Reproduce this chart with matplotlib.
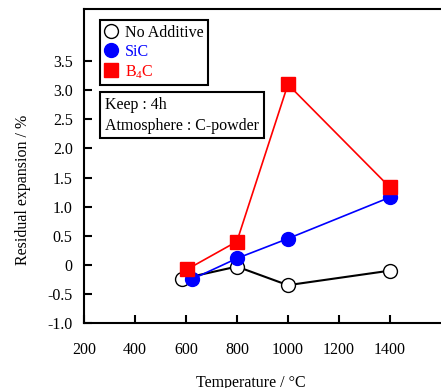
import matplotlib.pyplot as plt
from matplotlib.lines import Line2D

plt.rcParams['font.family'] = ['Liberation Serif', 'DejaVu Serif']
plt.rcParams['mathtext.fontset'] = 'custom'
plt.rcParams['mathtext.rm'] = 'Liberation Serif'

# dati
temp_none = [585, 800, 1000, 1400]
exp_none = [-0.24, -0.03, -0.35, -0.10]
temp_sic = [623, 800, 1000, 1400]
exp_sic = [-0.25, 0.11, 0.45, 1.16]
temp_b4c = [604, 800, 1000, 1400]
exp_b4c = [-0.08, 0.40, 3.10, 1.33]

xticks = [200, 400, 600, 800, 1000, 1200, 1400]
yticks = [-1.0, -0.5, 0, 0.5, 1.0, 1.5, 2.0, 2.5, 3.0, 3.5]
ylabels = ['-1.0', '-0.5', '0', '0.5', '1.0', '1.5', '2.0', '2.5', '3.0', '3.5']

fig = plt.figure(figsize=(4.41, 3.88), dpi=100)
ax = fig.add_axes([0.19, 0.1675, 0.81, 0.81])

ax.plot(temp_none, exp_none, color='black', lw=1.5, marker='o', ms=10,
        mfc='white', mec='black', mew=1.0, zorder=3)
ax.plot(temp_sic, exp_sic, color='blue', lw=1.2, marker='o', ms=10,
        mfc='blue', mec='blue', zorder=4)
ax.plot(temp_b4c, exp_b4c, color='red', lw=1.2, marker='s', ms=10,
        mfc='red', mec='red', zorder=5)

ax.set_xlim(200, 1600)
ax.set_ylim(-1.0, 4.4)
ax.set_xticks(xticks)
ax.set_yticks(yticks)
ax.set_yticklabels(ylabels)
ax.tick_params(direction='in', width=1.5, length=6, labelsize=11.5, pad=8)
ax.tick_params(axis='x', pad=14)
for s in ['left', 'bottom', 'top']:
    ax.spines[s].set_linewidth(1.5)
ax.spines['right'].set_visible(False)

ax.set_xlabel('Temperature / °C', fontsize=11.5)
ax.set_ylabel('Residual expansion / %', fontsize=11.5)
ax.xaxis.set_label_coords(0.468, -0.165)
ax.yaxis.set_label_coords(-0.147, 0.424)

handles = [
    Line2D([], [], ls='', marker='o', ms=10, mfc='white', mec='black'),
    Line2D([], [], ls='', marker='o', ms=10, mfc='blue', mec='blue'),
    Line2D([], [], ls='', marker='s', ms=10, mfc='red', mec='red'),
]
leg = ax.legend(handles, ['No Additive', 'SiC', 'B$_4$C'], loc='upper left',
                bbox_to_anchor=(0.045, 0.965), fontsize=11.5, fancybox=False,
                edgecolor='black', framealpha=1, handlelength=0.8,
                handletextpad=0.45, labelspacing=0.2, borderpad=0.3,
                borderaxespad=0.0)
leg.get_frame().set_linewidth(1.5)
for t, c in zip(leg.get_texts(), ['black', 'blue', 'red']):
    t.set_color(c)

ax.text(0.06, 0.72, 'Keep : 4h\nAtmosphere : C-powder', transform=ax.transAxes,
        fontsize=11.5, va='top', linespacing=1.4,
        bbox=dict(boxstyle='square,pad=0.3', fc='white', ec='black', lw=1.5))

plt.savefig('out.png', dpi=100)
